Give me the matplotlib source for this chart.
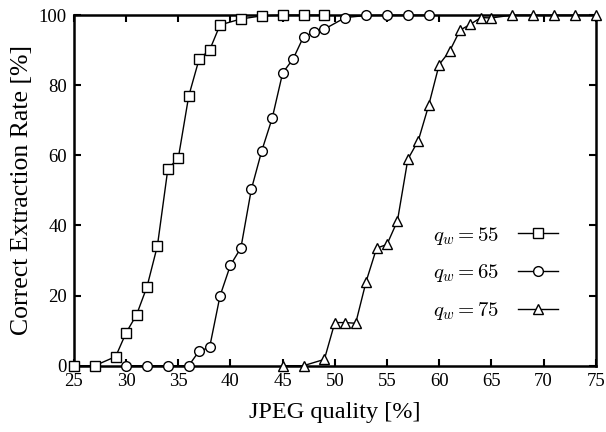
import matplotlib
matplotlib.use('Agg')
import matplotlib.pyplot as plt

# JPEG quality [%] and correct extraction rate [%] per watermark quality
q55_x = [25, 27, 29, 30, 31, 32, 33, 34, 35, 36, 37, 38, 39, 41, 43, 45, 47, 49]
q55_y = [0, 0, 2.6, 9.4, 14.5, 22.5, 34.2, 56.1, 59.2, 76.9, 87.5, 90.0, 97.2, 98.9,
         99.8, 100, 100, 100]

q65_x = [30, 32, 34, 36, 37, 38, 39, 40, 41, 42, 43, 44, 45, 46, 47, 48, 49, 51, 53, 55, 57, 59]
q65_y = [0, 0, 0, 0, 4.2, 5.2, 19.9, 28.7, 33.6, 50.3, 61.3, 70.6, 83.5, 87.5, 93.8,
         95.1, 96.0, 99.3, 99.9, 100, 100, 100]

q75_x = [45, 47, 49, 50, 51, 52, 53, 54, 55, 56, 57, 58, 59, 60, 61, 62, 63, 64, 65,
         67, 69, 71, 73, 75]
q75_y = [0, 0, 1.8, 12.3, 12.3, 12.1, 24.0, 33.5, 34.6, 41.3, 58.9, 64.2, 74.3, 85.9,
         89.7, 95.7, 97.4, 99.3, 99.2, 100, 100, 100, 100, 100]

labels = ['$q_w = 55$', '$q_w = 65$', '$q_w = 75$']
markers = ['s', 'o', '^']

plt.rcParams.update({'font.family': 'Liberation Serif', 'mathtext.fontset': 'cm'})

fig = plt.figure(figsize=(6.06, 4.32), dpi=100)
ax = fig.add_axes([0.122, 0.1535, 0.861, 0.8115])

for xs, ys, lab, m in zip([q55_x, q65_x, q75_x], [q55_y, q65_y, q75_y], labels, markers):
    ax.plot(xs, ys, color='black', linewidth=1, marker=m, markersize=7,
            markerfacecolor='white', markeredgecolor='black', markeredgewidth=1,
            label=lab, clip_on=False, zorder=3)

ax.set_xlim(25, 75)
ax.set_ylim(0, 100)
ax.set_xticks(range(25, 80, 5))
ax.set_yticks(range(0, 120, 20))
ax.tick_params(direction='in', top=True, right=True, length=5, width=1.5, labelsize=13.5, pad=5)
for s in ax.spines.values():
    s.set_linewidth(1.8)

ax.set_xlabel('JPEG quality [%]', fontsize=17.5, labelpad=9)
ax.set_ylabel('Correct Extraction Rate [%]', fontsize=18.5, labelpad=4)

ax.legend(loc='lower right', bbox_to_anchor=(0.927, 0.125), frameon=False, markerfirst=False,
          fontsize=15, handlelength=1.9, handletextpad=0.9, labelspacing=0.75, borderpad=0,
          borderaxespad=0)

fig.savefig('out.png', dpi=100)
